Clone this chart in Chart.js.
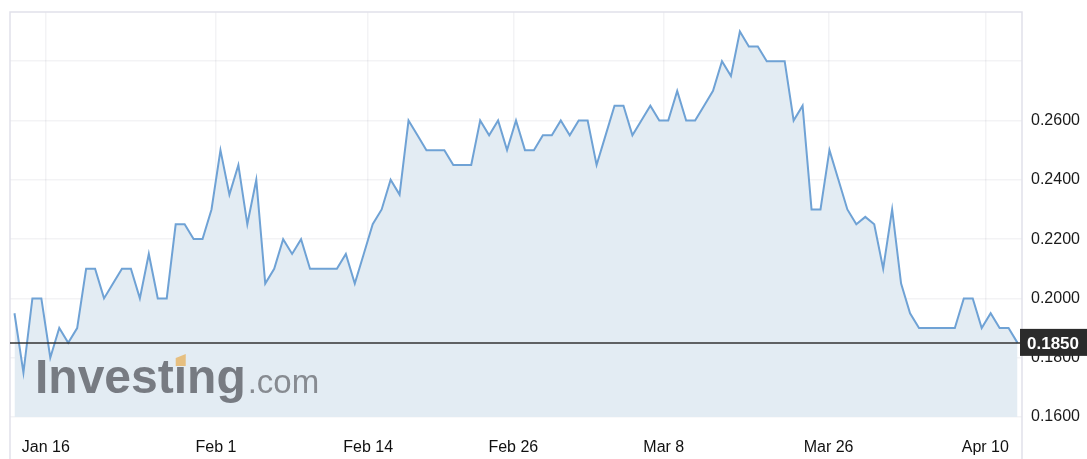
<!DOCTYPE html>
<html>
<head>
<meta charset="utf-8">
<script src="https://cdn.jsdelivr.net/npm/chart.js@4/dist/chart.umd.min.js"></script>
<style>
  html, body { margin: 0; padding: 0; background: #fff; }
  #wrap { width: 1087px; height: 459px; }
</style>
</head>
<body>
<div id="wrap"><canvas id="price-chart" width="1087" height="459"></canvas></div>
<script>
// daily closes
const prices = [
    0.195, 0.175, 0.200, 0.200, 0.180, 0.190, 0.185, 0.190, 0.210, 0.210,
    0.200, 0.205, 0.210, 0.210, 0.200, 0.215, 0.200, 0.200, 0.225, 0.225,
    0.220, 0.220, 0.230, 0.250, 0.235, 0.245, 0.225, 0.240, 0.205, 0.210,
    0.220, 0.215, 0.220, 0.210, 0.210, 0.210, 0.210, 0.215, 0.205, 0.215,
    0.225, 0.230, 0.240, 0.235, 0.260, 0.255, 0.250, 0.250, 0.250, 0.245,
    0.245, 0.245, 0.260, 0.255, 0.260, 0.250, 0.260, 0.250, 0.250, 0.255,
    0.255, 0.260, 0.255, 0.260, 0.260, 0.245, 0.255, 0.265, 0.265, 0.255,
    0.260, 0.265, 0.260, 0.260, 0.270, 0.260, 0.260, 0.265, 0.270, 0.280,
    0.275, 0.290, 0.285, 0.285, 0.280, 0.280, 0.280, 0.260, 0.265, 0.230,
    0.230, 0.250, 0.240, 0.230, 0.225, 0.2275, 0.225, 0.210, 0.230, 0.205,
    0.195, 0.190, 0.190, 0.190, 0.190, 0.190, 0.200, 0.200, 0.190, 0.195,
    0.190, 0.190, 0.185
];

const xLabels = ['Jan 16', 'Feb 1', 'Feb 14', 'Feb 26', 'Mar 8', 'Mar 26', 'Apr 10'];
const xLabelIdx = [3.5, 22.5, 39.5, 55.7, 72.5, 90.9, 108.4];

const yTickValues = [0.16, 0.18, 0.20, 0.22, 0.24, 0.26, 0.28];
const yTickLabels = ['0.1600', '0.1800', '0.2000', '0.2200', '0.2400', '0.2600', ''];

const lastPrice = prices[prices.length - 1];

// frame, watermark and the last price marker
const decorations = {
    id: 'decorations',
    afterDatasetsDraw(chart) {
        const ctx = chart.ctx;
        const area = chart.chartArea;
        ctx.save();

        // Investing.com watermark
        ctx.textBaseline = 'alphabetic';
        ctx.fillStyle = '#777b82';
        ctx.font = 'bold 48px "Liberation Sans", Arial, sans-serif';
        ctx.fillText('Investing', 35, 393);
        const w = ctx.measureText('Investing').width;
        const dotX = 35 + ctx.measureText('Invest').width;
        ctx.fillStyle = '#878b91';
        ctx.font = '33px "Liberation Sans", Arial, sans-serif';
        ctx.fillText('.com', 35 + w + 2, 393);
        // orange dot on the i
        ctx.fillStyle = '#e6bf80';
        ctx.beginPath();
        ctx.moveTo(dotX + 2, 358);
        ctx.lineTo(dotX + 12, 354);
        ctx.lineTo(dotX + 12, 366);
        ctx.lineTo(dotX + 2, 366);
        ctx.closePath();
        ctx.fill();

        // frame
        ctx.strokeStyle = '#e1e1ea';
        ctx.lineWidth = 1.5;
        ctx.beginPath();
        ctx.moveTo(area.left, chart.height);
        ctx.lineTo(area.left, area.top);
        ctx.lineTo(area.right, area.top);
        ctx.lineTo(area.right, chart.height);
        ctx.stroke();

        // last price line + tag
        const y = chart.scales.y.getPixelForValue(lastPrice);
        ctx.strokeStyle = '#333';
        ctx.lineWidth = 1.5;
        ctx.beginPath();
        ctx.moveTo(area.left, y);
        ctx.lineTo(area.right, y);
        ctx.stroke();
        ctx.fillStyle = '#2b2b2b';
        ctx.fillRect(area.right - 2, y - 14, chart.width - area.right + 2, 27);
        ctx.fillStyle = '#fff';
        ctx.font = 'bold 17px "Liberation Sans", Arial, sans-serif';
        ctx.textBaseline = 'middle';
        ctx.fillText(lastPrice.toFixed(4), area.right + 5, y + 1);
        ctx.restore();
    }
};

function drawChart() {
    const ctx = document.getElementById('price-chart').getContext('2d');
    new Chart(ctx, {
        type: 'line',
        data: {
            datasets: [{
                data: prices.map((p, i) => ({ x: i, y: p })),
                borderColor: '#6fa2d5',
                borderWidth: 2,
                backgroundColor: '#e3ecf3',
                fill: 'start',
                pointRadius: 0,
                tension: 0
            }]
        },
        options: {
            responsive: false,
            animation: false,
            layout: { padding: { top: 12, left: 10, right: 0, bottom: 0 } },
            plugins: { legend: { display: false }, tooltip: { enabled: false } },
            scales: {
                x: {
                    type: 'linear',
                    min: -0.5,
                    max: 112.5,
                    afterBuildTicks: scale => { scale.ticks = xLabelIdx.map(v => ({ value: v })); },
                    afterFit: scale => { scale.height = 42; scale.paddingLeft = 0; scale.paddingRight = 0; },
                    border: { display: false },
                    grid: { color: 'rgba(20,20,60,0.05)', lineWidth: 1.5, drawTicks: false },
                    ticks: {
                        autoSkip: false,
                        maxRotation: 0,
                        padding: 21,
                        color: '#111',
                        font: { family: '"Liberation Sans", Arial, sans-serif', size: 16 },
                        callback: (v, i) => xLabels[i]
                    }
                },
                y: {
                    position: 'right',
                    min: 0.16,
                    max: 0.2966,
                    afterBuildTicks: scale => { scale.ticks = yTickValues.map(v => ({ value: v })); },
                    afterFit: scale => { scale.width = 65; scale.paddingTop = 0; scale.paddingBottom = 0; },
                    border: { display: false },
                    grid: { color: 'rgba(20,20,60,0.05)', lineWidth: 1.5, drawTicks: false },
                    ticks: {
                        padding: 9,
                        color: '#1a1a1a',
                        font: { family: '"Liberation Sans", Arial, sans-serif', size: 16 },
                        callback: (v, i) => yTickLabels[i]
                    }
                }
            }
        },
        plugins: [decorations]
    });
}

document.addEventListener('DOMContentLoaded', drawChart);
</script>
</body>
</html>
